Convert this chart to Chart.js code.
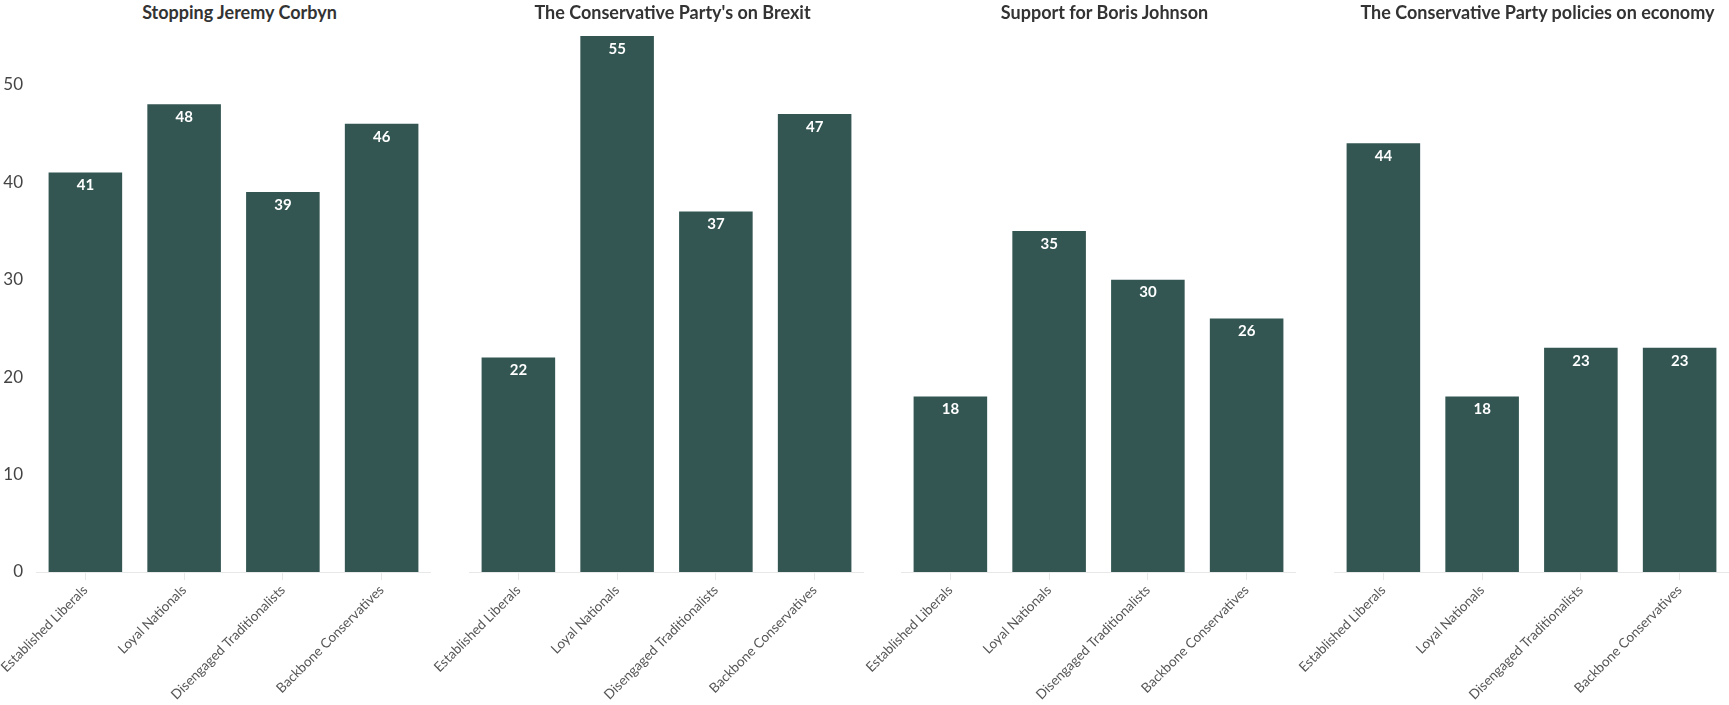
<!DOCTYPE html>
<html>
<head>
<meta charset="utf-8">
<script src="https://cdn.jsdelivr.net/npm/chart.js@4/dist/chart.umd.min.js"></script>
<style>
    body { margin: 0; background: #fff; width: 1729px; height: 705px; overflow: hidden; position: relative; font-family: Lato, sans-serif; }
    .panel-title { position: absolute; top: 0; height: 24px; line-height: 24px; font-weight: bold; font-size: 18px; color: #333; text-align: center; white-space: nowrap; }
    canvas { position: absolute; top: 0; }
</style>
</head>
<body>
<div id="charts"></div>
<script>
// Data
const categories = ['Established Liberals', 'Loyal Nationals', 'Disengaged Traditionalists', 'Backbone Conservatives'];
const panelTitles = ['Stopping Jeremy Corbyn', "The Conservative Party's on Brexit", 'Support for Boris Johnson', 'The Conservative Party policies on economy'];
const stoppingCorbyn = [41, 48, 39, 46];
const onBrexit = [22, 55, 37, 47];
const borisSupport = [18, 35, 30, 26];
const onEconomy = [44, 18, 23, 23];
const yMax = 55;
const yStep = 10;

const allSeries = [stoppingCorbyn, onBrexit, borisSupport, onEconomy];
const barColor = '#335653';

// draws the value in white near the top of each bar
const valueLabels = {
    id: 'valueLabels',
    afterDatasetsDraw(chart) {
        const ctx = chart.ctx;
        ctx.save();
        ctx.fillStyle = '#fff';
        ctx.font = 'bold 15px Lato, sans-serif';
        ctx.textAlign = 'center';
        ctx.textBaseline = 'middle';
        chart.getDatasetMeta(0).data.forEach((bar, i) => {
            ctx.fillText(chart.data.datasets[0].data[i], bar.x, bar.y + 13);
        });
        ctx.restore();
    }
};

const container = document.getElementById('charts');
const plotWidth = 395;
const axisWidth = 36;
const firstPlotLeft = 36;
const panelStep = 432.7;

allSeries.forEach((series, idx) => {
    const plotLeft = Math.round(firstPlotLeft + idx * panelStep);
    const showY = idx === 0;

    const title = document.createElement('div');
    title.className = 'panel-title';
    title.textContent = panelTitles[idx];
    title.style.left = (plotLeft + plotWidth / 2 + 6 - 250) + 'px';
    title.style.width = '500px';
    container.appendChild(title);

    // every canvas keeps room on the left for the (hidden) y axis and the rotated labels
    const canvas = document.createElement('canvas');
    canvas.width = axisWidth + plotWidth;
    canvas.height = 705;
    canvas.style.left = (plotLeft - axisWidth) + 'px';
    container.appendChild(canvas);

    new Chart(canvas.getContext('2d'), {
        type: 'bar',
        data: {
            labels: categories,
            datasets: [{
                data: series,
                backgroundColor: barColor,
                borderWidth: 0,
                categoryPercentage: 1,
                barPercentage: 0.745
            }]
        },
        options: {
            responsive: false,
            animation: false,
            layout: { padding: { top: 36, left: 0, right: 0, bottom: 0 } },
            plugins: {
                legend: { display: false },
                tooltip: { enabled: false }
            },
            scales: {
                x: {
                    grid: {
                        offset: false,
                        drawOnChartArea: false,
                        drawTicks: true,
                        tickLength: 8,
                        color: '#e8e8e8'
                    },
                    border: { display: true, color: '#e8e8e8', width: 1 },
                    ticks: {
                        autoSkip: false,
                        maxRotation: 45,
                        minRotation: 45,
                        color: '#555',
                        font: { family: 'Lato, sans-serif', size: 13.5 },
                        padding: 2
                    },
                    afterFit(scale) {
                        scale.height = 133;
                        scale.paddingLeft = 0;
                        scale.paddingRight = 0;
                    }
                },
                y: {
                    display: true,
                    min: 0,
                    max: yMax,
                    grid: { display: false, drawTicks: false },
                    border: { display: false },
                    ticks: {
                        display: showY,
                        stepSize: yStep,
                        includeBounds: false,
                        color: '#444',
                        font: { family: 'Lato, sans-serif', size: 17 },
                        padding: 13
                    },
                    afterFit(scale) { scale.width = axisWidth; }
                }
            }
        },
        plugins: [valueLabels]
    });
});
</script>
</body>
</html>
